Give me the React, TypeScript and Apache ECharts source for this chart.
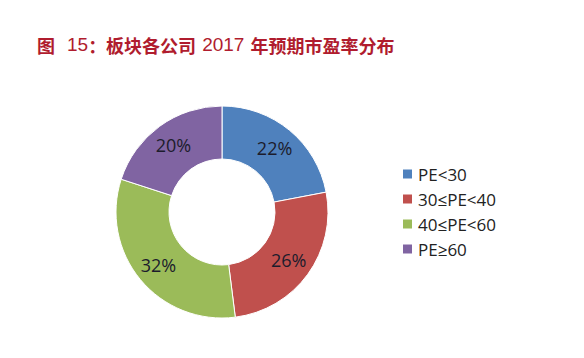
import React, { useEffect, useRef } from "react";
import * as echarts from "echarts";

const categories = ["PE<30", "30≤PE<40", "40≤PE<60", "PE≥60"];
const shares = [22, 26, 32, 20];
const colors = ["#4F81BD", "#C0504D", "#9BBB59", "#8064A2"];
const titleParts = ["图", "15", "：板块各公司", "2017", "年预期市盈率分布"];

export default function App() {
  const ref = useRef<HTMLDivElement>(null);
  useEffect(() => {
    if (!ref.current) return;
    const chart = echarts.init(ref.current, undefined, { renderer: "svg" });
    const titleRich =
      `{b|${titleParts[0]}}{g|}{n|${titleParts[1]}}{b|${titleParts[2]}}{s|}{n|${titleParts[3]}}{s|}{b|${titleParts[4]}}`;
    chart.setOption({
      animation: false,
      backgroundColor: "#ffffff",
      title: {
        text: titleRich,
        left: 32,
        top: 30,
        textStyle: {
          rich: {
            b: {
              color: "#b01c2e",
              fontSize: 18,
              fontWeight: "bold",
              fontFamily: "Noto Sans CJK SC",
            },
            n: {
              color: "#b01c2e",
              fontSize: 19,
              fontWeight: "normal",
              fontFamily: "Liberation Sans",
            },
            g: { width: 12 },
            s: { width: 6 },
          },
        },
      },
      legend: {
        orient: "vertical",
        left: 396,
        top: 160,
        itemWidth: 11,
        itemHeight: 11,
        itemGap: 7,
        icon: "rect",
        data: categories,
        textStyle: {
          color: "#222222",
          fontSize: 17,
          lineHeight: 18,
          fontFamily: "Open Sans",
          padding: [0, 0, 0, 0],
        },
      },
      series: [
        {
          type: "pie",
          center: [222, 212],
          radius: [53, 106],
          startAngle: 90,
          clockwise: true,
          avoidLabelOverlap: false,
          itemStyle: { borderColor: "#ffffff", borderWidth: 1 },
          label: {
            show: true,
            position: "inside",
            formatter: "{c}%",
            color: "#1c1c2c",
            fontSize: 18,
            fontFamily: "Open Sans",
          },
          labelLine: { show: false },
          data: categories.map((name, i) => ({
            name,
            value: shares[i],
            itemStyle: { color: colors[i] },
          })),
        },
      ],
    });
    return () => chart.dispose();
  }, []);
  return (
    <div
      ref={ref}
      style={{ position: "absolute", left: 0, top: 0, width: 584, height: 358 }}
    />
  );
}
